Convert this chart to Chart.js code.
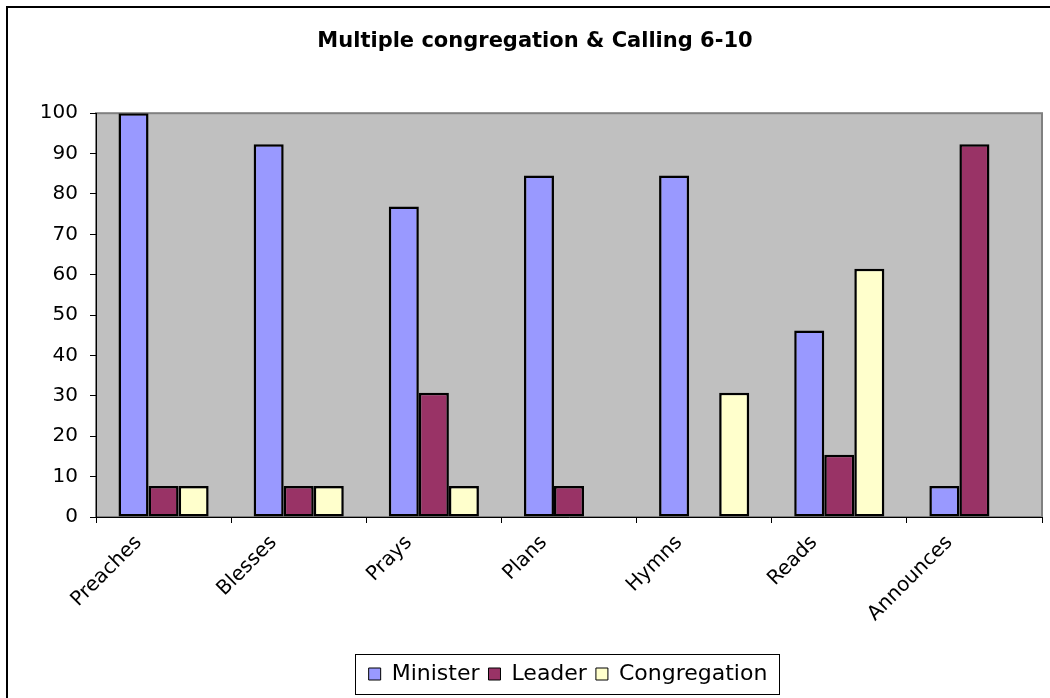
<!DOCTYPE html>
<html lang="en">
<head>
  <meta charset="UTF-8" />
  <title>Multiple congregation &amp; Calling 6-10</title>
  <script src="https://cdn.jsdelivr.net/npm/chart.js"></script>
  <style>
    body { margin: 0; padding: 0; background: #fff; }
    canvas { display: block; }
  </style>
</head>
<body>
  <canvas id="chart" width="1050" height="698"></canvas>

  <script>
    const categories = ['Preaches', 'Blesses', 'Prays', 'Plans', 'Hymns', 'Reads', 'Announces'];
    const minister = [100, 92.3, 76.9, 84.6, 84.6, 46.2, 7.7];
    const leader = [7.7, 7.7, 30.8, 7.7, 0, 15.4, 92.3];
    const congregation = [7.7, 7.7, 7.7, 0, 30.8, 61.5, 0];
    const yTicks = [0, 10, 20, 30, 40, 50, 60, 70, 80, 90, 100];

    const FONT = "'DejaVu Sans', sans-serif";
    Chart.defaults.color = '#000';
    Chart.defaults.font.family = FONT;

    // grey plot area, frame around the whole chart, box round the legend
    const frame = {
      id: 'frame',
      afterLayout(chart) {
        // legend and title sit right of centre in the original
        chart.legend.left += 47;
        chart.legend.right += 47;
        chart.titleBlock.left += 14;
        chart.titleBlock.right += 14;
      },
      beforeDraw(chart) {
        const c = chart.ctx, a = chart.chartArea;
        c.save();
        c.fillStyle = '#fff';
        c.fillRect(0, 0, chart.width, chart.height);
        c.strokeStyle = '#000';
        c.lineWidth = 2;
        c.beginPath();
        c.moveTo(7, chart.height + 5);
        c.lineTo(7, 7);
        c.lineTo(chart.width + 5, 7);
        c.stroke();
        c.fillStyle = '#c0c0c0';
        c.fillRect(a.left, a.top, a.right - a.left, a.bottom - a.top);
        c.strokeStyle = '#808080';
        c.lineWidth = 2;
        c.strokeRect(a.left, a.top, a.right - a.left, a.bottom - a.top);
        c.restore();
      },
      afterDraw(chart) {
        const lg = chart.legend;
        const w = lg.lineWidths[0];
        const cx = (lg.left + lg.right) / 2;
        const c = chart.ctx;
        c.save();
        c.strokeStyle = '#000';
        c.lineWidth = 1;
        c.strokeRect(Math.round(cx - w / 2 - 9) + 0.5, lg.top + 0.5, Math.round(w + 16), lg.height - 1);
        c.restore();
      }
    };

    const bw = ctx => (ctx.raw === 0 ? 0 : 2.5);

    new Chart(document.getElementById('chart'), {
      type: 'bar',
      data: {
        labels: categories,
        datasets: [
          { label: 'Minister', data: minister, backgroundColor: '#9999ff' },
          { label: 'Leader', data: leader, backgroundColor: '#993366' },
          { label: 'Congregation', data: congregation, backgroundColor: '#ffffcc' }
        ].map(d => Object.assign(d, {
          borderColor: '#000',
          borderWidth: bw,
          borderSkipped: false,
          categoryPercentage: 0.667,
          barPercentage: 1
        }))
      },
      options: {
        responsive: false,
        animation: false,
        layout: { padding: { left: 0, right: 8, top: 0, bottom: 3 } },
        plugins: {
          title: {
            display: true,
            text: 'Multiple congregation & Calling 6-10',
            color: '#000',
            font: { family: FONT, size: 21, weight: 'bold' },
            padding: { top: 29, bottom: 59 }
          },
          legend: {
            position: 'bottom',
            labels: {
              color: '#000',
              font: { family: FONT, size: 22 },
              boxWidth: 12,
              boxHeight: 12,
              padding: 9,
              generateLabels(chart) {
                return chart.data.datasets.map((d, i) => ({
                  text: d.label,
                  fillStyle: d.backgroundColor,
                  strokeStyle: '#000',
                  lineWidth: 1,
                  datasetIndex: i
                }));
              }
            }
          },
          tooltip: { enabled: false }
        },
        scales: {
          x: {
            grid: { display: true, drawOnChartArea: false, color: '#000', tickLength: 6 },
            border: { color: '#000', width: 1 },
            ticks: {
              color: '#000',
              font: { family: FONT, size: 20 },
              minRotation: 45,
              maxRotation: 45,
              labelOffset: -25,
              padding: 8
            },
            afterFit(scale) {
              scale.height = 698 - 3 - scale.chart.legend.height - 517;
            }
          },
          y: {
            min: 0,
            max: 100,
            grid: { display: true, drawOnChartArea: false, color: '#000', tickLength: 6 },
            border: { color: '#000', width: 1 },
            afterBuildTicks(scale) {
              scale.ticks = yTicks.map(v => ({ value: v }));
            },
            ticks: {
              color: '#000',
              font: { family: FONT, size: 20 },
              padding: 12
            },
            afterFit(scale) {
              scale.width = 96;
            }
          }
        }
      },
      plugins: [frame]
    });
  </script>
</body>
</html>
